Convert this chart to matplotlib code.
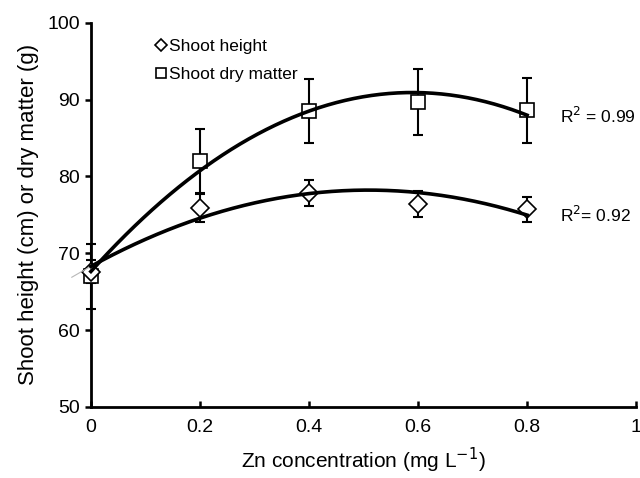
import matplotlib.pyplot as plt
import numpy as np
from matplotlib.lines import Line2D

plt.rcParams['font.family'] = ['Liberation Sans', 'DejaVu Sans']

zn = [0, 0.2, 0.4, 0.6, 0.8]
height = [67.6, 75.9, 77.9, 76.4, 75.7]
height_err = [1.5, 1.8, 1.7, 1.7, 1.65]
dry = [67.0, 82.0, 88.5, 89.7, 88.6]
dry_err = [4.2, 4.2, 4.2, 4.3, 4.2]
r2_labels = ['R$^2$ = 0.99', 'R$^2$= 0.92']

fig = plt.figure(figsize=(6.4, 4.78), dpi=100)
ax = fig.add_axes([0.142, 0.149, 0.852, 0.803])

# error bars underneath markers
ax.errorbar(zn, dry, yerr=dry_err, fmt='none', ecolor='black', elinewidth=1.5,
            capsize=3.3, capthick=1.5, zorder=2, clip_on=False)
ax.errorbar(zn, height, yerr=height_err, fmt='none', ecolor='black', elinewidth=1.5,
            capsize=3.3, capthick=1.5, zorder=2, clip_on=False)

ax.plot(zn, dry, linestyle='none', marker='s', markersize=9.5, markerfacecolor='white',
        markeredgecolor='black', markeredgewidth=1.2, zorder=3, clip_on=False)
ax.plot(zn, height, linestyle='none', marker='D', markersize=9, markerfacecolor='white',
        markeredgecolor='black', markeredgewidth=1.2, zorder=3, clip_on=False)

# quadratic trendlines
xs = np.linspace(0, 0.8, 200)
xs_ext = np.linspace(-0.035, 0.8, 200)
p_dry = np.polyfit(zn, dry, 2)
p_h = np.polyfit(zn, height, 2)
ax.plot(xs_ext, np.polyval(p_h, xs_ext), color='#b8b8b8', lw=0.8, zorder=3.5, clip_on=False)
ax.plot(xs, np.polyval(p_h, xs), color='black', lw=2.6, zorder=4, clip_on=False)
ax.plot(xs, np.polyval(p_dry, xs), color='black', lw=2.6, zorder=4, clip_on=False)

ax.text(0.861, 87.9, r2_labels[0], fontsize=12.5, va='center', ha='left')
ax.text(0.861, 75.0, r2_labels[1], fontsize=12.5, va='center', ha='left')

handles = [
    Line2D([], [], linestyle='none', marker='D', markersize=6, markerfacecolor='white',
           markeredgecolor='black', markeredgewidth=1.2, label='Shoot height'),
    Line2D([], [], linestyle='none', marker='s', markersize=7.5, markerfacecolor='white',
           markeredgecolor='black', markeredgewidth=1.2, label='Shoot dry matter'),
]
ax.legend(handles=handles, loc='upper left', bbox_to_anchor=(0.1, 0.985), frameon=False,
          fontsize=12.5, handlelength=0.6, handletextpad=0.15, labelspacing=0.7,
          borderaxespad=0.2)

ax.set_xlim(0, 1)
ax.set_ylim(50, 100)
ax.set_xticks([0, 0.2, 0.4, 0.6, 0.8, 1])
ax.set_xticklabels(['0', '0.2', '0.4', '0.6', '0.8', '1'])
ax.set_yticks([50, 60, 70, 80, 90, 100])

for side in ('top', 'right'):
    ax.spines[side].set_visible(False)
for side in ('left', 'bottom'):
    ax.spines[side].set_linewidth(2)

ax.tick_params(axis='y', direction='out', length=4, width=1.8, labelsize=14, pad=4)
ax.tick_params(axis='x', direction='in', length=4, width=1.8, labelsize=14, pad=9)

ax.set_xlabel('Zn concentration (mg L$^{-1}$)', fontsize=15, labelpad=7)
ax.set_ylabel('Shoot height (cm) or dry matter (g)', fontsize=16, labelpad=6)

fig.savefig('out.png', dpi=100)
